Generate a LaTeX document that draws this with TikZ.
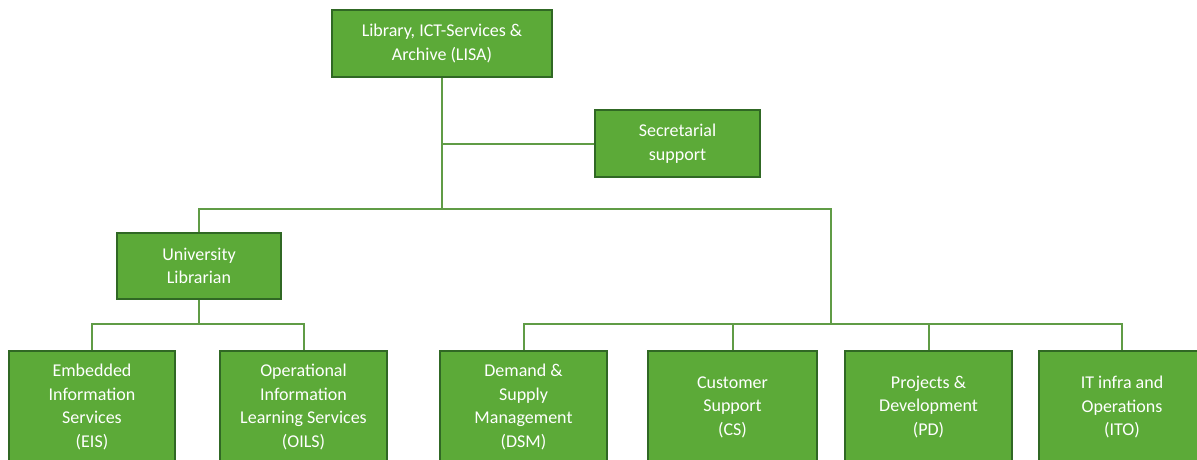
\documentclass[tikz,border=0pt]{standalone}
\usepackage{fontspec}
\setmainfont{Carlito}
\definecolor{boxfill}{RGB}{92,170,56}
\definecolor{boxedge}{RGB}{48,104,36}
\definecolor{linecol}{RGB}{96,156,70}
\begin{document}
\begin{tikzpicture}[x=1pt,y=-1pt,
  orgbox/.style={draw=boxedge, line width=2.4pt, fill=boxfill, text=white, align=center,
    font=\fontsize{18}{23.5}\selectfont, inner sep=0pt, anchor=center},
  conn/.style={draw=linecol, line width=2pt}]
\clip (0,0) rectangle (1197,459);
\fill[white] (0,0) rectangle (1197,459);
% nodes
\node[orgbox, minimum width=220, minimum height=67] (lisa) at (442,43.5) {Library, ICT-Services \&\\Archive (LISA)};
\node[orgbox, minimum width=165, minimum height=67] (sec) at (677.5,143.5) {Secretarial\\support};
\node[orgbox, minimum width=164, minimum height=66] (ul) at (199,266) {University\\Librarian};
\node[orgbox, minimum width=166, minimum height=112] (eis) at (92,407) {Embedded\\Information\\Services\\(EIS)};
\node[orgbox, minimum width=167, minimum height=112] (oils) at (303.5,407) {Operational\\Information\\Learning Services\\(OILS)};
\node[orgbox, minimum width=167, minimum height=112] (dsm) at (523.5,407) {Demand \&\\Supply\\Management\\(DSM)};
\node[orgbox, minimum width=169, minimum height=112] (cs) at (732.5,407) {Customer\\Support\\(CS)};
\node[orgbox, minimum width=167, minimum height=112] (pd) at (928.5,407) {Projects \&\\Development\\(PD)};
\node[orgbox, minimum width=166, minimum height=112] (ito) at (1122,407) {IT infra and\\Operations\\(ITO)};
% junctions
\coordinate (topbar) at (443,209);
\coordinate (rj) at (831,324);
\coordinate (lj) at (199,324);
% connectors
\draw[conn] (lisa.south) -- (lisa.south |- topbar);
\draw[conn] (sec.west) -- (sec.west -| lisa.south);
\draw[conn] (ul.north) -- (ul.north |- topbar) -- (rj |- topbar) -- (rj);
\draw[conn] (ul.south) -- (lj);
\draw[conn] (eis.north) |- (oils.north |- lj) -- (oils.north);
\draw[conn] (dsm.north) |- (ito.north |- rj) -- (ito.north);
\draw[conn] (cs.north) -- (cs.north |- rj);
\draw[conn] (pd.north) -- (pd.north |- rj);
\end{tikzpicture}
\end{document}
